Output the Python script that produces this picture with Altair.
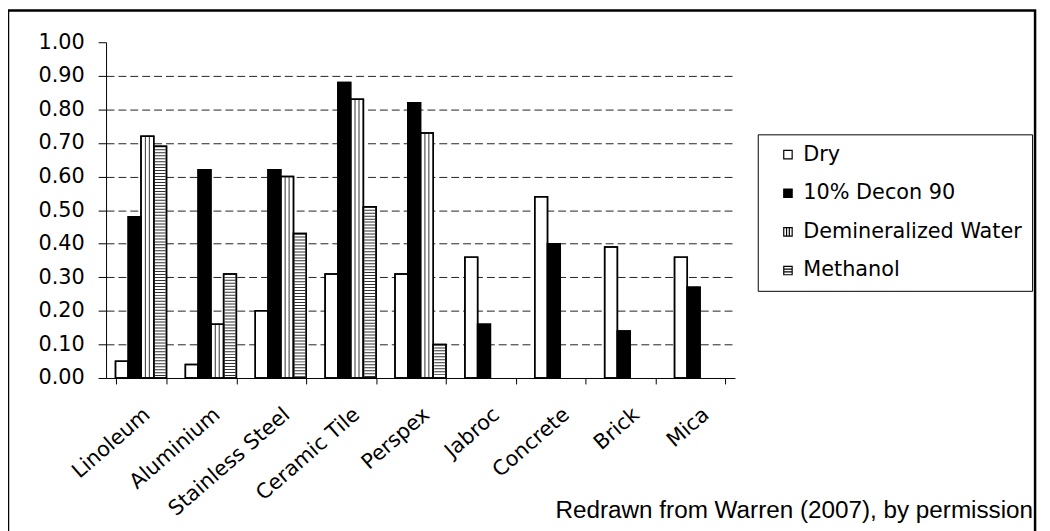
import altair as alt
import pandas as pd

materials = ["Linoleum", "Aluminium", "Stainless Steel", "Ceramic Tile", "Perspex",
             "Jabroc", "Concrete", "Brick", "Mica"]
series = ["Dry", "10% Decon 90", "Demineralized Water", "Methanol"]
dry = [0.05, 0.04, 0.20, 0.31, 0.31, 0.36, 0.54, 0.39, 0.36]
decon = [0.48, 0.62, 0.62, 0.88, 0.82, 0.16, 0.40, 0.14, 0.27]
demin = [0.72, 0.16, 0.60, 0.83, 0.73, None, None, None, None]
methanol = [0.69, 0.31, 0.43, 0.51, 0.10, None, None, None, None]
y_ticks = [0.0, 0.1, 0.2, 0.3, 0.4, 0.5, 0.6, 0.7, 0.8, 0.9, 1.0]
caption = "Redrawn from Warren (2007), by permission"

rows = []
for s, vals in zip(series, [dry, decon, demin, methanol]):
    for m, v in zip(materials, vals):
        if v is not None:
            rows.append({"material": m, "series": s, "value": v})
df = pd.DataFrame(rows)

FONT = "DejaVu Sans"

base = alt.Chart(df).encode(
    x=alt.X("material:N", sort=materials,
            scale=alt.Scale(domain=materials, paddingInner=0.27, paddingOuter=0.135),
            axis=alt.Axis(title=None, labelAngle=-41, labelAlign="right", labelBaseline="middle",
                          tickBand="extent", tickSize=6, labelPadding=28, labelOffset=6, grid=False,
                          labelFont=FONT, labelFontSize=21, labelColor="black", labelLimit=300,
                          domainColor="black", tickColor="black", domainWidth=1, tickWidth=1)),
    xOffset=alt.XOffset("series:N", sort=series,
                        scale=alt.Scale(domain=series, paddingInner=0, paddingOuter=0)),
    y=alt.Y("value:Q", scale=alt.Scale(domain=[0, 1], nice=False),
            axis=alt.Axis(title=None, values=y_ticks, format=".2f", tickSize=8, labelPadding=14,
                          grid=True, gridDash=[8, 4], gridColor="#222", gridWidth=1,
                          gridOpacity={"condition": {"test": "datum.value > 0.95 || datum.value < 0.05", "value": 0}, "value": 1},
                          labelFont=FONT, labelFontSize=21, labelColor="black",
                          domainColor="black", tickColor="black", domainWidth=1, tickWidth=1)),
)

sq = "M-1,-1H1V1H-1Z"
vstripe = "M-1,-1H1V1H-1Z M-0.33,-1V1 M0.33,-1V1"
hstripe = "M-1,-1H1V1H-1Z M-1,-0.33H1 M-1,0.33H1"
shape_expr = ("datum.value == 'Demineralized Water' ? '" + vstripe + "' : "
              "datum.value == 'Methanol' ? '" + hstripe + "' : '" + sq + "'")

leg = alt.Legend(title=None, orient="none", legendX=658, legendY=93, strokeColor="black",
                 padding=10, rowPadding=17, symbolOffset=10, labelOffset=5,
                 symbolSize=72, symbolOpacity=1, symbolStrokeColor="black", symbolStrokeWidth=1.2,
                 symbolType={"expr": shape_expr},
                 labelFont=FONT, labelFontSize=21, labelColor="black", labelLimit=400)

bars = base.mark_bar(stroke="black", strokeWidth=1.5).encode(
    color=alt.Color("series:N", scale=alt.Scale(domain=series, range=["white", "black", "white", "white"]),
                    legend=leg)
)

meth = base.transform_filter("datum.series == 'Methanol'").mark_rule(
    strokeWidth=11, strokeDash=[1, 2], color="#333", strokeCap="butt"
).encode(y2=alt.datum(0))

demin_lines = base.transform_filter("datum.series == 'Demineralized Water'").mark_bar(
    width=4, fillOpacity=0, stroke="#333", strokeWidth=1
)

outline = base.mark_bar(fillOpacity=0, stroke="black", strokeWidth=1.5)

frame = alt.Chart(pd.DataFrame({"k": [0]})).mark_rect(
    fillOpacity=0, stroke="black", strokeWidth=2.5
).encode(x=alt.value(-99), x2=alt.value(938), y=alt.value(-32), y2=alt.value(500))

chart = alt.layer(bars, meth, demin_lines, outline, frame).properties(
    width=635, height=339,
    title=alt.TitleParams(caption, orient="bottom", anchor="end", frame="group", dx=301, offset=-40,
                          font="Liberation Sans", fontSize=24.5, fontWeight="normal", color="black"),
    autosize=alt.AutoSizeParams(type="none"),
    padding={"left": 99, "top": 32, "right": 310, "bottom": 160},
).configure_view(stroke=None)

chart.save("out.html", embed_options={"renderer": "svg", "actions": False})
